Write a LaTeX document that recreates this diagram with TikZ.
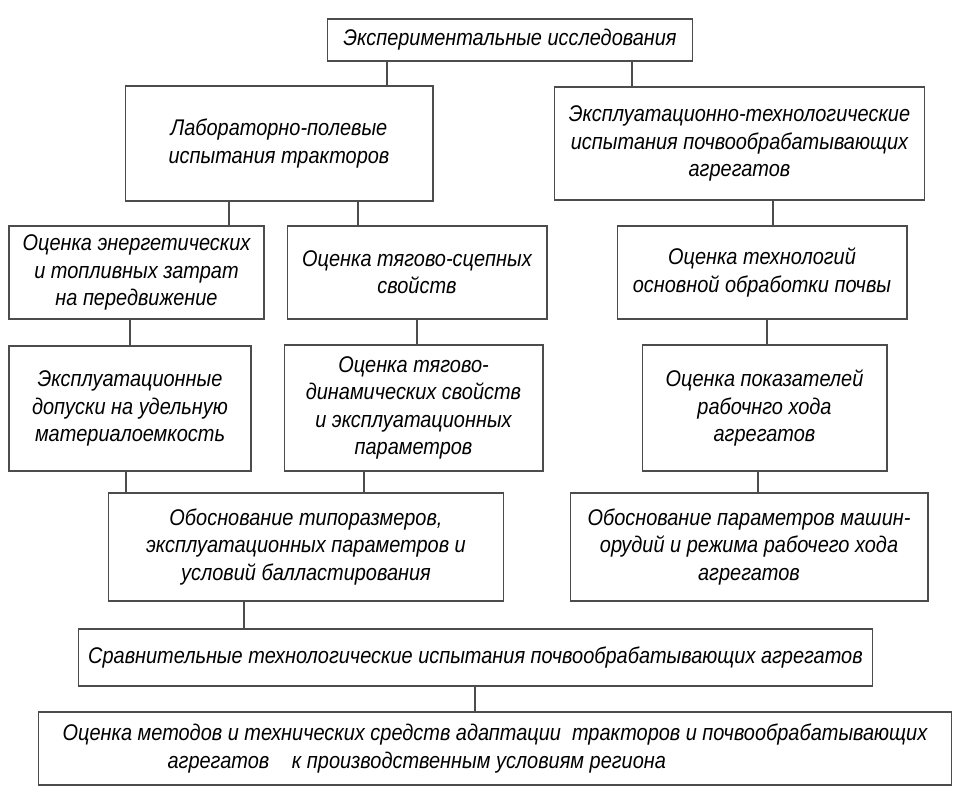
\documentclass[tikz,border=0pt]{standalone}
\usepackage{fontspec}
\setmainfont{Liberation Sans}[FakeStretch=0.88]

\begin{document}
\begin{tikzpicture}
    [x=0.02cm, y=-0.02cm,
    box/.style={draw=black!70, line width=0.6pt, align=center, inner sep=2pt,
        font=\itshape\fontsize{12.9}{15.5}\selectfont},
    link/.style={draw=black!70, line width=0.6pt}]
    \useasboundingbox (0,0) rectangle (964,799);
        %% top
    \node[box, minimum width=7.32cm, minimum height=0.84cm] (exp) at (510,40) {Экспериментальные исследования};
    \node[box, minimum width=6.16cm, minimum height=2.30cm] (lab) at (279,143.5) {Лабораторно-полевые\\испытания тракторов};
    \node[box, minimum width=7.42cm, minimum height=2.26cm] (ekspl) at (739.5,143.5) {Эксплуатационно-технологические\\испытания почвообрабатывающих\\агрегатов};
        %% second row
    \node[box, minimum width=5.10cm, minimum height=1.86cm] (energ) at (136.5,272.5) {Оценка энергетических\\и топливных затрат\\на передвижение};
    \node[box, minimum width=5.20cm, minimum height=1.86cm] (tsep) at (417,272.5) {Оценка тягово-сцепных\\свойств};
    \node[box, minimum width=5.80cm, minimum height=1.86cm] (tekh) at (762,272.5) {Оценка технологий\\основной обработки почвы};
        %% third row
    \node[box, minimum width=4.84cm, minimum height=2.50cm] (dop) at (130,408.5) {Эксплуатационные\\допуски на удельную\\материалоемкость};
    \node[box, minimum width=5.18cm, minimum height=2.52cm] (dyn) at (413.5,408) {Оценка тягово-\\динамических свойств\\и эксплуатационных\\параметров};
    \node[box, minimum width=4.90cm, minimum height=2.52cm] (pokaz) at (764.5,408) {Оценка показателей\\рабочнго хода\\агрегатов};
        %% fourth row
    \node[box, minimum width=7.92cm, minimum height=2.16cm] (tipo) at (306,547) {Обоснование типоразмеров,\\эксплуатационных параметров и\\условий балластирования};
    \node[box, minimum width=7.16cm, minimum height=2.16cm] (param) at (749,547) {Обоснование параметров машин-\\орудий и режима рабочего хода\\агрегатов};
        %% bottom
    \node[box, minimum width=15.90cm, minimum height=1.14cm] (sravn) at (475.5,657.5) {Сравнительные технологические испытания почвообрабатывающих агрегатов};
    \node[box, align=left, minimum width=18.28cm, minimum height=1.46cm] (adapt) at (495,748.5) {Оценка методов и технических средств адаптации\ \ тракторов и почвообрабатывающих\\\hspace*{2.1cm}агрегатов\quad к производственным условиям региона};

    \draw[link] (exp.south -| 387,0) -- (lab.north -| 387,0);
    \draw[link] (exp.south -| 632,0) -- (ekspl.north -| 632,0);
    \draw[link] (lab.south -| 229,0) -- (energ.north -| 229,0);
    \draw[link] (lab.south -| 358,0) -- (tsep.north -| 358,0);
    \draw[link] (ekspl.south -| 773,0) -- (tekh.north -| 773,0);
    \draw[link] (energ.south -| 130,0) -- (dop.north -| 130,0);
    \draw[link] (tsep.south -| 417,0) -- (dyn.north -| 417,0);
    \draw[link] (tekh.south -| 767,0) -- (pokaz.north -| 767,0);
    \draw[link] (dop.south -| 126,0) -- (tipo.north -| 126,0);
    \draw[link] (dyn.south -| 364,0) -- (tipo.north -| 364,0);
    \draw[link] (pokaz.south -| 758,0) -- (param.north -| 758,0);
    \draw[link] (tipo.south -| 244,0) -- (sravn.north -| 244,0);
    \draw[link] (sravn.south -| 475,0) -- (adapt.north -| 475,0);
\end{tikzpicture}
\end{document}
